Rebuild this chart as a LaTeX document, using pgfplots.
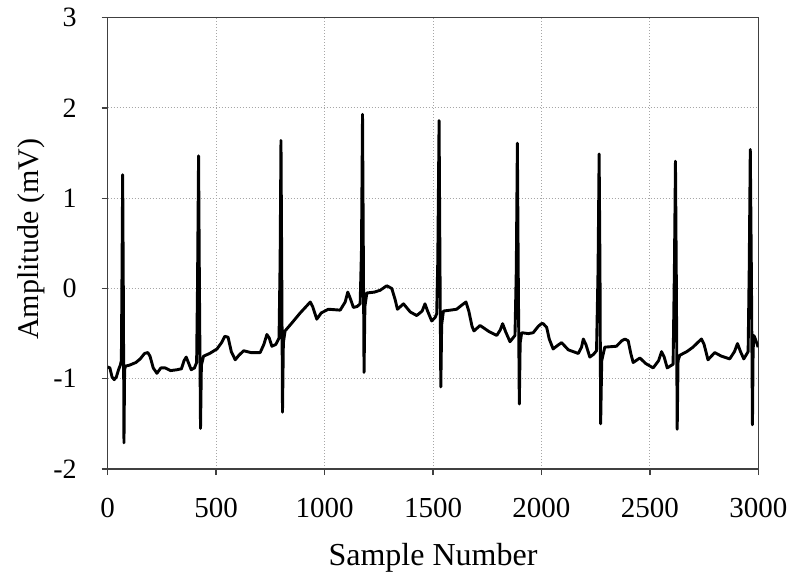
\documentclass[border=0pt]{standalone}
\usepackage{pgfplots}
\pgfplotsset{compat=1.18}
\usepackage{fontspec}
\setmainfont{Liberation Serif}
\usetikzlibrary{calc}
\pgfplotstableread{
s v
0 -0.87
10 -0.88
20 -0.98
30 -1.01
40 -0.98
50 -0.90
58 -0.85
63 -0.80
66 0.2
69 1.26
72 0.0
75 -1.71
78 -0.9
82 -0.86
100 -0.85
130 -0.82
150 -0.78
170 -0.72
185 -0.71
195 -0.75
210 -0.88
227 -0.94
245 -0.88
265 -0.88
290 -0.91
320 -0.90
340 -0.89
352 -0.80
362 -0.76
372 -0.82
385 -0.90
400 -0.88
410 -0.82
414 0.0
419 1.47
423 0.0
428 -1.55
432 -0.85
442 -0.75
470 -0.72
504 -0.67
525 -0.60
540 -0.53
555 -0.54
570 -0.70
588 -0.79
605 -0.74
627 -0.69
660 -0.71
703 -0.71
720 -0.62
734 -0.51
745 -0.55
757 -0.64
775 -0.62
790 -0.55
795 0.3
799 1.64
803 0.0
806 -1.37
810 -0.6
818 -0.47
850 -0.38
888 -0.27
915 -0.20
934 -0.15
945 -0.20
964 -0.34
985 -0.27
1018 -0.23
1072 -0.24
1095 -0.15
1107 -0.04
1120 -0.12
1133 -0.21
1150 -0.20
1164 -0.17
1170 0.4
1175 1.93
1179 0.3
1182 -0.93
1186 -0.2
1195 -0.05
1230 -0.04
1256 -0.02
1287 0.03
1310 0.00
1325 -0.12
1336 -0.23
1364 -0.17
1395 -0.26
1425 -0.30
1450 -0.25
1463 -0.17
1475 -0.25
1494 -0.36
1510 -0.32
1517 -0.28
1522 0.3
1528 1.86
1532 0.3
1536 -1.09
1540 -0.4
1548 -0.25
1580 -0.24
1609 -0.23
1635 -0.18
1652 -0.15
1665 -0.25
1680 -0.42
1689 -0.47
1717 -0.41
1760 -0.48
1794 -0.52
1810 -0.46
1821 -0.39
1835 -0.48
1855 -0.59
1878 -0.52
1884 0.2
1889 1.61
1893 0.2
1898 -1.28
1902 -0.6
1909 -0.49
1940 -0.50
1962 -0.49
1985 -0.42
2000 -0.39
2008 -0.39
2024 -0.43
2036 -0.56
2054 -0.67
2075 -0.63
2093 -0.60
2124 -0.68
2170 -0.72
2185 -0.65
2193 -0.56
2205 -0.62
2223 -0.76
2240 -0.73
2254 -0.69
2261 0.2
2266 1.49
2270 0.2
2273 -1.50
2278 -0.8
2292 -0.65
2346 -0.64
2370 -0.58
2385 -0.56
2400 -0.58
2412 -0.72
2423 -0.82
2454 -0.77
2480 -0.83
2515 -0.88
2540 -0.80
2554 -0.70
2566 -0.76
2580 -0.88
2607 -0.84
2613 0.2
2618 1.41
2622 0.1
2626 -1.56
2630 -0.8
2638 -0.74
2670 -0.70
2699 -0.65
2720 -0.60
2738 -0.56
2750 -0.62
2768 -0.79
2799 -0.71
2830 -0.75
2868 -0.78
2890 -0.70
2904 -0.61
2918 -0.70
2933 -0.78
2953 -0.70
2958 0.2
2963 1.54
2968 0.2
2973 -1.51
2976 -0.7
2979 -0.52
2985 -0.55
2999 -0.65
}\ecg
\definecolor{axisgray}{HTML}{404040}
\begin{document}
\begin{tikzpicture}
\begin{axis}[
  scale only axis,
  width=325.3pt, height=225.65pt,
  xmin=0, xmax=3000, ymin=-2, ymax=3,
  xtick={0,500,...,3000}, ytick={-2,-1,...,3},
  yticklabels={-2,-1,0,1,2,3},
  scaled x ticks=false,
  /pgf/number format/assume math mode=true,
  /pgf/number format/1000 sep={},
  tick align=outside, tick pos=left,
  major tick length=3pt,
  axis line style={axisgray, line width=0.65pt},
  every tick/.style={axisgray, line width=0.65pt},
  grid=major,
  major grid style={gray!70, line width=0.5pt, dash pattern=on 0.5pt off 1pt},
  xticklabel style={font=\fontsize{14.5}{17}\selectfont, yshift=-8pt},
  yticklabel style={font=\fontsize{14}{16}\selectfont, xshift=-9pt},
  xlabel={Sample Number},
  ylabel={Amplitude (mV)},
  xlabel style={font=\fontsize{16}{19}\selectfont, at={(rel axis cs:0.5,0)}, anchor=base, yshift=-48pt},
  ylabel style={font=\fontsize{15}{18}\selectfont, at={(rel axis cs:0,0.5)}, anchor=base, yshift=34.7pt, xshift=2pt},
]
\addplot[black, line width=1.45pt, line join=round] table[x=s, y=v] {\ecg};
\end{axis}
\pgfresetboundingbox
\path[use as bounding box] ($(current axis.south west)+(-53.85pt,-51pt)$) rectangle ($(current axis.north east)+(15.35pt,8.85pt)$);
\end{tikzpicture}
\end{document}
